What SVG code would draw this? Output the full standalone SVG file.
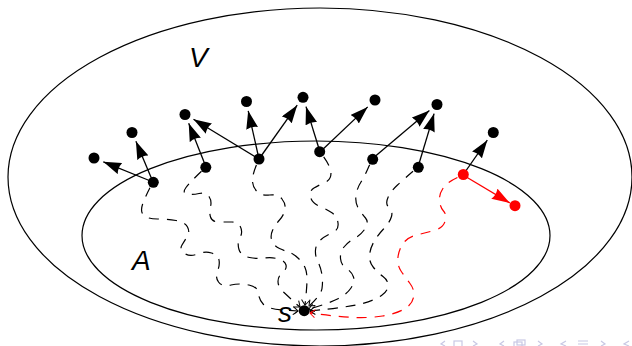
<svg xmlns="http://www.w3.org/2000/svg" width="632" height="346" viewBox="0 0 632 346">
<style>
.set{fill:none;stroke:#000;stroke-width:1.2}
.edge{stroke:#000;stroke-width:1.3;fill:none;marker-end:url(#ah)}
.redge{stroke:#f00;stroke-width:1.3;fill:none;marker-end:url(#ahr)}
.walk{fill:none;stroke:#000;stroke-width:1.2;stroke-dasharray:10 8;stroke-dashoffset:-6;marker-end:url(#to)}
.rwalk{fill:none;stroke:#f00;stroke-width:1.2;stroke-dasharray:10 8;stroke-dashoffset:-6;marker-end:url(#tor)}
.node{fill:#000}
.rnode{fill:#f00}
.lbl{font-family:"Liberation Sans",Arial,sans-serif;font-style:italic;font-size:28px;fill:#000}
.nav{fill:none;stroke:#c8c8e4;stroke-width:1.2}
</style>
<defs>
<marker id="ah" markerUnits="userSpaceOnUse" viewBox="0 0 18 12" refX="18" refY="6" markerWidth="18" markerHeight="12" orient="auto">
<path d="M0,0 L18,6 L0,12 Q2.5,6 0,0 z" fill="#000"/>
</marker>
<marker id="ahr" markerUnits="userSpaceOnUse" viewBox="0 0 18 12" refX="18" refY="6" markerWidth="18" markerHeight="12" orient="auto">
<path d="M0,0 L18,6 L0,12 Q2.5,6 0,0 z" fill="#f00"/>
</marker>
<marker id="to" markerUnits="userSpaceOnUse" viewBox="-7 -5 9 10" refX="0" refY="0" markerWidth="9" markerHeight="10" orient="auto" overflow="visible">
<path d="M-5,-4 Q-1,-1 0,0 Q-1,1 -5,4" fill="none" stroke="#000" stroke-width="1" stroke-dasharray="none"/>
</marker>
<marker id="tor" markerUnits="userSpaceOnUse" viewBox="-7 -5 9 10" refX="0" refY="0" markerWidth="9" markerHeight="10" orient="auto" overflow="visible">
<path d="M-5,-4 Q-1,-1 0,0 Q-1,1 -5,4" fill="none" stroke="#f00" stroke-width="1" stroke-dasharray="none"/>
</marker>
</defs>
<rect width="632" height="346" fill="#fff"/>
<g id="set-V">
<ellipse class="set" cx="320" cy="177" rx="312" ry="169"/>
<text class="lbl" x="189" y="67">V</text>
</g>
<g id="set-A">
<ellipse class="set" cx="316" cy="235.5" rx="234" ry="94.5"/>
<text class="lbl" x="132" y="270">A</text>
</g>
<g id="connectors">
<path class="walk" d="M153,182 Q145,197 142.5,204.5 Q140,212 144,215.5 Q148,219 157.5,219 Q167,219 176,220.5 Q185,222 187.5,227 Q190,232 187.5,236 Q185,240 182,245 Q179,250 184.5,253.5 Q190,257 197.5,254 Q205,251 211.5,253 Q218,255 219,260 Q220,265 217.5,271 Q215,277 218.5,282 Q222,287 231,285 Q240,283 249,285 Q258,287 258.5,293.5 Q259,300 263.5,304.5 Q268,309 283,310 L298,311"/>
<path class="walk" d="M206,167 Q190,182 186,187.5 Q182,193 187,194 Q192,195 199,193.5 Q206,192 209,196.5 Q212,201 210.5,206.5 Q209,212 210.5,217 Q212,222 219,222 Q226,222 232,222 Q238,222 240.5,227 Q243,232 240,237.5 Q237,243 239,249.5 Q241,256 249.5,257.5 Q258,259 265,258 Q272,257 278.5,259 Q285,261 286,265 Q287,269 282.5,272.5 Q278,276 278,281.5 Q278,287 284,292.5 Q290,298 294.5,302.5 L300,307"/>
<path class="walk" d="M259,159 Q253,172 252.5,179 Q252,186 256.5,191 Q261,196 269.5,195 Q278,194 282,199 Q286,204 285,209.5 Q284,215 279.5,220 Q275,225 272.5,230.5 Q270,236 272,241 Q274,246 279.5,248.5 Q285,251 289.5,252.5 Q294,254 298.5,258.5 Q303,263 305,267.5 Q307,272 307,279.5 Q307,287 305,305"/>
<path class="walk" d="M320,152 Q331,166 331,173 Q331,180 325,182.5 Q319,185 314,188 Q309,191 310.5,197 Q312,203 319,206 Q326,209 331.5,212.5 Q337,216 338,223 Q339,230 332,233 Q325,236 320.5,240 Q316,244 315.5,250 Q315,256 318,262 Q321,268 322,275 Q323,282 322,288.5 Q321,295 309,306"/>
<path class="walk" d="M372,159 Q365,176 361,182 Q357,188 356,195.5 Q355,203 358.5,208.5 Q362,214 365.5,218 Q369,222 365.5,228 Q362,234 355,238 Q348,242 344,247 Q340,252 340.5,258.5 Q341,265 346.5,268.5 Q352,272 353.5,277 Q355,282 351,288 Q347,294 338.5,298.5 Q330,303 309,309"/>
<path class="walk" d="M418,167 Q404,179 397.5,185 Q391,191 388,197.5 Q385,204 389,207.5 Q393,211 391.5,216.5 Q390,222 383.5,229 Q377,236 373.5,242.5 Q370,249 369.5,255.5 Q369,262 373.5,267.5 Q378,273 383,276.5 Q388,280 388,285.5 Q388,291 381.5,295.5 Q375,300 362.5,303.5 Q350,307 310,311"/>
<path class="rwalk" d="M463,175 Q448,181 443.5,187.5 Q439,194 439.5,200.5 Q440,207 443.5,211 Q447,215 445,221.5 Q443,228 434,230.5 Q425,233 416.5,235 Q408,237 403.5,243 Q399,249 398,257 Q397,265 401,271 Q405,277 410,283.5 Q415,290 413.5,297.5 Q412,305 403.5,309.5 Q395,314 382.5,316 Q370,318 355,317.5 Q340,317 310,313"/>
<line class="edge" x1="153" y1="182" x2="103.3" y2="161.8"/>
<line class="edge" x1="153" y1="182" x2="135.9" y2="141.2"/>
<line class="edge" x1="206" y1="167" x2="188.7" y2="123.3"/>
<line class="edge" x1="259" y1="159" x2="193.5" y2="119.2"/>
<line class="edge" x1="259" y1="159" x2="248.2" y2="110.8"/>
<line class="edge" x1="259" y1="159" x2="297.2" y2="105.2"/>
<line class="edge" x1="320" y1="152" x2="306" y2="106.6"/>
<line class="edge" x1="320" y1="152" x2="367.7" y2="106.9"/>
<line class="edge" x1="372" y1="159" x2="429.4" y2="110.5"/>
<line class="edge" x1="418" y1="167" x2="434.1" y2="113.6"/>
<line class="edge" x1="463" y1="175" x2="487.3" y2="140.2"/>
<line class="redge" x1="463" y1="175" x2="509.8" y2="202.9"/>
</g>
<g id="n1"><circle class="node" cx="94" cy="158" r="5.5"/></g>
<g id="n2"><circle class="node" cx="132" cy="132.5" r="5.5"/></g>
<g id="n3"><circle class="node" cx="185" cy="114.5" r="5.5"/></g>
<g id="n4"><circle class="node" cx="246.5" cy="101.5" r="5.5"/></g>
<g id="n5"><circle class="node" cx="303" cy="97.3" r="5.5"/></g>
<g id="n6"><circle class="node" cx="375" cy="100" r="5.5"/></g>
<g id="n7"><circle class="node" cx="437" cy="104.5" r="5.5"/></g>
<g id="n8"><circle class="node" cx="493.3" cy="132.5" r="5.5"/></g>
<g id="a1"><circle class="node" cx="153.3" cy="182.3" r="5.5"/></g>
<g id="a2"><circle class="node" cx="205.8" cy="167.3" r="5.5"/></g>
<g id="a3"><circle class="node" cx="259" cy="159" r="5.5"/></g>
<g id="a4"><circle class="node" cx="319.7" cy="151.7" r="5.5"/></g>
<g id="a5"><circle class="node" cx="372.7" cy="159.3" r="5.5"/></g>
<g id="a6"><circle class="node" cx="418.3" cy="167.3" r="5.5"/></g>
<g id="r1"><circle class="rnode" cx="463.3" cy="174.5" r="5.5"/></g>
<g id="r2"><circle class="rnode" cx="515" cy="205.7" r="5.5"/></g>
<g id="s"><circle class="node" cx="304.2" cy="310.7" r="5.5"/><text class="lbl" x="278" y="322">s</text></g>
<g id="navigation">
<path class="nav" d="M445,341 L441,344 L445,346"/>
<rect class="nav" x="454" y="341" width="8" height="6"/>
<path class="nav" d="M473,341 L477,344 L473,346"/>
<path class="nav" d="M504,341 L500,344 L504,346"/>
<rect class="nav" x="514" y="342" width="8" height="5"/>
<rect class="nav" x="517" y="340" width="8" height="5"/>
<path class="nav" d="M538,341 L542,344 L538,346"/>
<path class="nav" d="M566,341 L561,344 L566,346"/>
<path class="nav" d="M578,341 H588 M578,344 H588"/>
<path class="nav" d="M601,341 L605,344 L601,346"/>
<path class="nav" d="M629,341 L624,344 L629,346"/>
</g>
</svg>
